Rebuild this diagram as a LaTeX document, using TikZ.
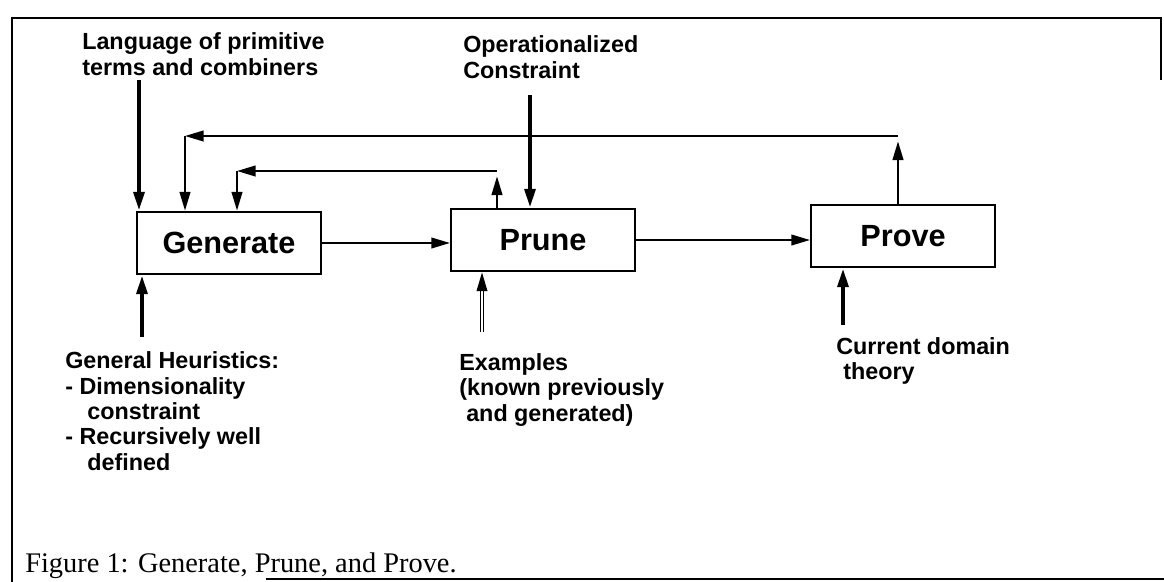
\documentclass[tikz,border=0pt]{standalone}
\usepackage{fontspec}
\setmainfont{Liberation Serif}
\setsansfont{Liberation Sans}
\usetikzlibrary{arrows.meta}

\begin{document}
\begin{tikzpicture}[x=0.75pt,y=-0.75pt]

		\tikzstyle{stage} = [rectangle, draw, line width=1.6pt, inner sep=0, minimum width=138pt, minimum height=47pt, font=\sffamily\bfseries\fontsize{23}{26}\selectfont]
		
		\tikzstyle{links} = [-{Triangle[length=14pt,width=8pt]}, line width=1.5pt]
		
		\tikzstyle{inputs} = [links, line width=3pt]
		
		\tikzstyle{labels} = [anchor=west, align=left, inner sep=0, font=\sffamily\bfseries\fontsize{17.5}{19}\selectfont]
		
		\useasboundingbox (0,0) rectangle (1164,582);
		
		% frame round the figure
		\draw[line width=2pt] (266,579) -- (1164,579);
		\draw[line width=2pt] (12,582) -- (12,18) -- (1161,18) -- (1161,80);
		
		\node[stage] at (229, 243) (generate) {Generate};
		\node[stage] at (543, 240) (prune) {Prune};
		\node[stage] at (903, 236) (prove) {Prove};
		
		\node[labels] at (82, 54) (language) {Language of primitive\\terms and combiners};
		\node[labels] at (463, 57) (operational) {Operationalized\\Constraint};
		\node[labels] at (65, 411) (heuristics) {General Heuristics:\\- Dimensionality\\\hspace*{0.95em}constraint\\- Recursively well\\\hspace*{0.95em}defined};
		\node[labels] at (459, 390) (examples) {Examples\\(known previously\\\hspace*{0.3em}and generated)};
		\node[labels] at (836, 361) (domain) {Current domain\\\hspace*{0.3em}theory};
		
		\node[anchor=base west, inner sep=0, font=\fontsize{21.3}{24}\selectfont] at (25, 572) (caption) {Figure 1: Generate, Prune, and Prove.};
		
		\coordinate (languagefoot) at (139, 80);
		\coordinate (operationalfoot) at (530, 95);
		\coordinate (heuristicshead) at (142, 337);
		\coordinate (exampleshead) at (482, 332);
		\coordinate (domainhead) at (843, 325);
		
		\coordinate (provecorner) at (898, 136);
		\coordinate (provereturn) at (185, 136);
		\coordinate (prunecorner) at (497, 171);
		\coordinate (prunereturn) at (237, 171);
		
		\draw[inputs] (languagefoot) -- (generate.north -| languagefoot);
		\draw[inputs] (operationalfoot) -- (prune.north -| operationalfoot);
		\draw[inputs] (heuristicshead) -- (generate.south -| heuristicshead);
		\draw[links, double, double distance=1.2pt, line width=1pt] (exampleshead) -- (prune.south -| exampleshead);
		\draw[inputs] (domainhead) -- (prove.south -| domainhead);
		
		\draw[links] (generate.east) -- (prune.west |- generate.east);
		\draw[links] (prune.east) -- (prove.west |- prune.east);
		
		\draw[links, shorten >=4pt] (prove.north -| provecorner) -- (provecorner);
		\draw[links] (provecorner) -- (provereturn);
		\draw[links] (provereturn) -- (generate.north -| provereturn);
		
		\draw[links, shorten >=4pt] (prune.north -| prunecorner) -- (prunecorner);
		\draw[links] (prunecorner) -- (prunereturn);
		\draw[links] (prunereturn) -- (generate.north -| prunereturn);
	\end{tikzpicture}
\end{document}
